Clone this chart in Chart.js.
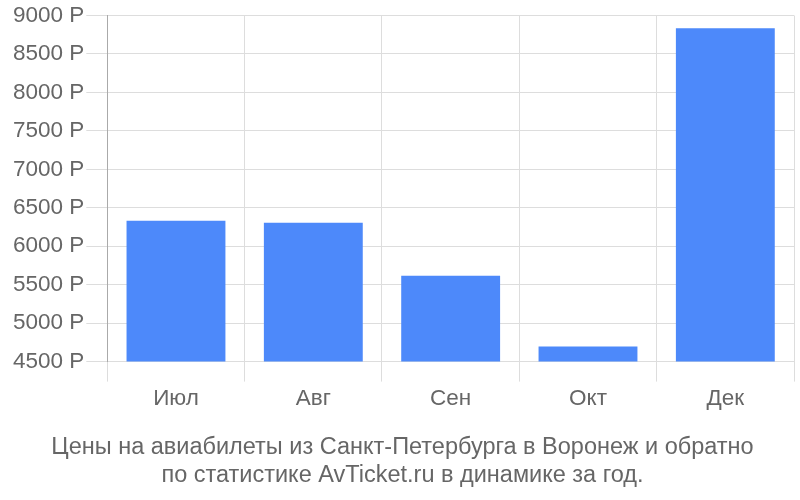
<!DOCTYPE html>
<html>
<head>
<meta charset="utf-8">
<script src="https://cdn.jsdelivr.net/npm/chart.js@4"></script>
<style>
  html, body { margin: 0; padding: 0; background: #fff; }
  #wrap { width: 800px; height: 500px; }
</style>
</head>
<body>
<div id="wrap"><canvas id="myChart"></canvas></div>
<script>
var months = ['Июл', 'Авг', 'Сен', 'Окт', 'Дек'];
var prices = [6330, 6305, 5615, 4695, 8835];
var titleLines = ['Цены на авиабилеты из Санкт-Петербурга в Воронеж и обратно', 'по статистике AvTicket.ru в динамике за год.'];

Chart.defaults.font.family = '"Liberation Sans", Arial, sans-serif';
Chart.defaults.color = '#666';

var ctx = document.getElementById('myChart').getContext('2d');
var myChart = new Chart(ctx, {
    type: 'bar',
    data: {
        labels: months,
        datasets: [{
            data: prices,
            backgroundColor: '#4d89fa',
            borderWidth: 0,
            categoryPercentage: 0.8,
            barPercentage: 0.9
        }]
    },
    options: {
        responsive: true,
        maintainAspectRatio: false,
        animation: false,
        layout: { padding: { top: 1, right: 6, left: 11, bottom: 10 } },
        plugins: {
            legend: { display: false },
            tooltip: { enabled: false },
            title: {
                display: true,
                position: 'bottom',
                text: titleLines,
                color: '#666',
                font: { size: 23.5, weight: 'normal', lineHeight: 1.2 },
                padding: { top: 17, bottom: 0 }
            }
        },
        scales: {
            x: {
                grid: { color: '#ddd', tickLength: 20, offset: true },
                border: { color: '#ddd' },
                ticks: { font: { size: 22.5 }, color: '#666', padding: 4 }
            },
            y: {
                min: 4500,
                max: 9000,
                grid: { color: '#ddd', tickLength: 21 },
                border: { color: '#aaa' },
                ticks: {
                    stepSize: 500,
                    font: { size: 22.5 },
                    color: '#666',
                    padding: 2,
                    callback: function (v) { return v + ' Р'; }
                }
            }
        }
    }
});
</script>
</body>
</html>
